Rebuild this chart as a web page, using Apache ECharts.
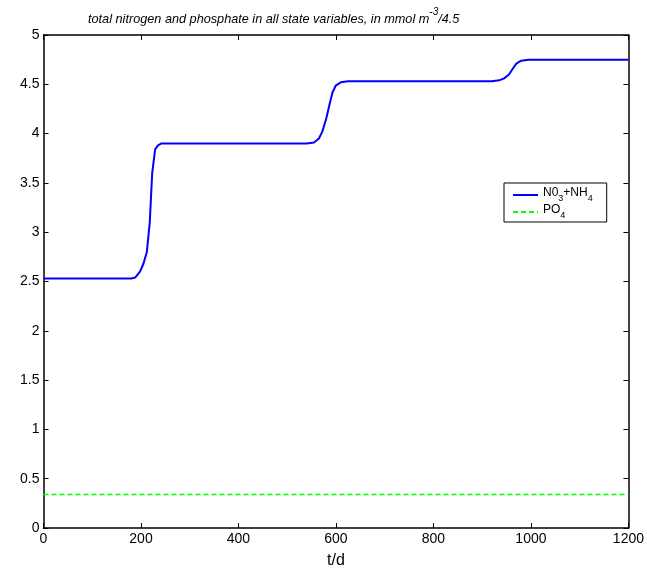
<!DOCTYPE html>
<html><head><meta charset="utf-8">
<script src="https://cdn.jsdelivr.net/npm/echarts@6/dist/echarts.min.js"></script>
<style>html,body{margin:0;padding:0;background:#fff}#c{width:647px;height:574px}</style>
</head><body><div id="c"></div>
<script>
const nTime = [0, 180, 188, 198, 205, 212, 218, 223, 229, 235, 242, 250, 540, 555, 565, 572, 580, 587, 593, 600, 610, 625, 920, 935, 945, 955, 963, 970, 980, 995, 1200];
const nValue = [2.53, 2.53, 2.54, 2.6, 2.68, 2.8, 3.1, 3.6, 3.84, 3.88, 3.9, 3.9, 3.9, 3.91, 3.95, 4.02, 4.15, 4.3, 4.42, 4.49, 4.52, 4.53, 4.53, 4.54, 4.56, 4.6, 4.66, 4.71, 4.74, 4.75, 4.75];
const pTime = [0, 1200];
const pValue = [0.34, 0.34];
const xTicks = [0, 200, 400, 600, 800, 1000, 1200];
const yTicks = [0, 0.5, 1, 1.5, 2, 2.5, 3, 3.5, 4, 4.5, 5];

const FONT = "'Liberation Sans',Arial,sans-serif";
const chart = echarts.init(document.getElementById('c'), null, {renderer: 'canvas'});
const axisLine = {show: true, onZero: false, lineStyle: {color: '#000', width: 1.5}};
const tickIn = {show: true, inside: true, length: 5, lineStyle: {color: '#000', width: 1}};
chart.setOption({
  animation: false,
  backgroundColor: '#fff',
  title: {
    text: '{t|total nitrogen and phosphate in all state variables, in mmol m}{s|-3}{t|/4.5}',
    left: 83, top: 2,
    textStyle: {fontWeight: 'normal', rich: {
      t: {fontFamily: FONT, fontStyle: 'italic', fontWeight: 'normal', fontSize: 12.7, color: '#000', verticalAlign: 'bottom', padding: [6, 0, 0, 0]},
      s: {fontFamily: FONT, fontStyle: 'italic', fontWeight: 'normal', fontSize: 10, color: '#000', verticalAlign: 'top', padding: [0, 0, 8, 0]}
    }}
  },
  grid: {left: 43.5, right: 18.5, top: 35, bottom: 44, show: false},
  legend: {
    orient: 'vertical', left: 504, top: 183,
    backgroundColor: '#fff', borderColor: '#000', borderWidth: 1,
    padding: [4, 14, 2, 8], itemGap: 1, itemWidth: 25, itemHeight: 14,
    data: ['N', 'P'],
    itemStyle: {opacity: 0},
    formatter: function (n) {
      return n === 'N' ? '{a|N0}{b|3}{a|+NH}{b|4}' : '{a|PO}{b|4}';
    },
    textStyle: {fontSize: 12, color: '#000', rich: {
      a: {fontFamily: FONT, fontSize: 12, color: '#000', verticalAlign: 'top', padding: [0, 0, 4, 0]},
      b: {fontFamily: FONT, fontSize: 9, color: '#000', verticalAlign: 'bottom', padding: [6, 0, 0, 0]}
    }}
  },
  xAxis: [{
    type: 'value', min: 0, max: 1200, interval: 200,
    axisLine: axisLine, axisTick: tickIn, splitLine: {show: false},
    axisLabel: {fontFamily: FONT, fontSize: 14, color: '#000', margin: 4,
      formatter: v => xTicks.includes(v) ? String(v) : ''},
    name: 't/d', nameLocation: 'middle', nameGap: 25,
    nameTextStyle: {fontFamily: FONT, fontSize: 16, color: '#000'}
  }, {
    type: 'value', position: 'top', min: 0, max: 1200, interval: 200,
    axisLine: axisLine, axisTick: tickIn, splitLine: {show: false}, axisLabel: {show: false}
  }],
  yAxis: [{
    type: 'value', min: 0, max: 5, interval: 0.5,
    axisLine: axisLine, axisTick: tickIn, splitLine: {show: false},
    axisLabel: {fontFamily: FONT, fontSize: 14, color: '#000', margin: 4,
      formatter: v => yTicks.includes(v) ? String(v) : ''}
  }, {
    type: 'value', position: 'right', min: 0, max: 5, interval: 0.5,
    axisLine: axisLine, axisTick: tickIn, splitLine: {show: false}, axisLabel: {show: false}
  }],
  series: [{
    name: 'N', type: 'line', showSymbol: false, symbol: 'none',
    data: nTime.map((t, i) => [t, nValue[i]]),
    lineStyle: {color: '#0000ff', width: 2}, itemStyle: {color: '#0000ff'}
  }, {
    name: 'P', type: 'line', showSymbol: false, symbol: 'none',
    data: pTime.map((t, i) => [t, pValue[i]]),
    lineStyle: {color: '#00ff00', width: 1.5, type: [5, 3]}, itemStyle: {color: '#00ff00'}
  }]
});
</script></body></html>
